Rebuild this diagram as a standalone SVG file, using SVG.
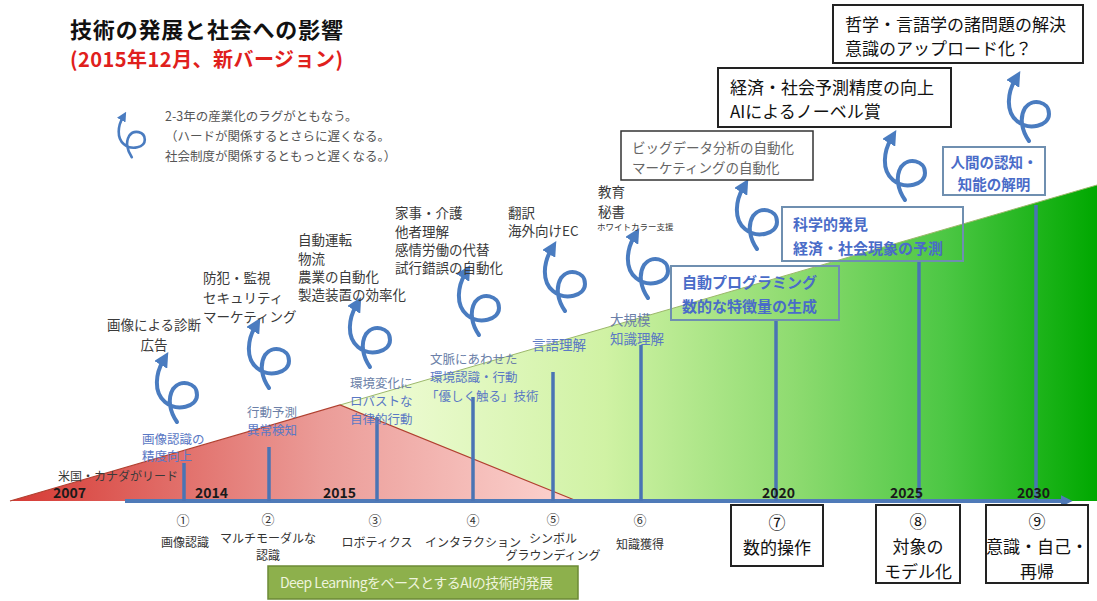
<svg xmlns="http://www.w3.org/2000/svg" xmlns:xlink="http://www.w3.org/1999/xlink" width="1097" height="601" viewBox="0 0 1097 601">
<style>
text{font-family:"Noto Sans CJK JP","Noto Sans",sans-serif;}
.title{font-size:22px;font-weight:bold;fill:#111;}
.sub{font-size:20px;font-weight:bold;fill:#e0201c;}
.note{font-size:12.5px;fill:#555;}
.lab{font-size:13.5px;fill:#3a3a3a;}
.blue{font-size:12.5px;fill:#5a78c4;}
.bbox{font-size:15px;font-weight:bold;fill:#4a6cc8;}
.year{font-size:14px;font-weight:bold;fill:#1a1a1a;}
.num{font-size:13px;fill:#333;}
.cap{font-size:12px;fill:#333;}
.big{font-size:17px;fill:#111;}
.box{fill:#fff;stroke:#222;stroke-width:2;}
.tbox{fill:none;stroke:#6f8fb0;stroke-width:2;}
.tick{stroke:#4a74b4;stroke-width:3.5;}
.curl{fill:none;stroke:#4a7cc0;stroke-width:4;stroke-linecap:round;}
</style>
<defs>
<linearGradient id="gGreen" gradientUnits="userSpaceOnUse" x1="340" y1="0" x2="1097" y2="0">
<stop offset="0" stop-color="#f3fddc"/>
<stop offset="0.35" stop-color="#d0f2a4"/>
<stop offset="0.6" stop-color="#8edb70"/>
<stop offset="0.8" stop-color="#4cc744"/>
<stop offset="1" stop-color="#00a800"/>
</linearGradient>
<linearGradient id="gRed" gradientUnits="userSpaceOnUse" x1="10" y1="0" x2="577" y2="0">
<stop offset="0" stop-color="#d63a34"/>
<stop offset="0.55" stop-color="#eb9c98"/>
<stop offset="1" stop-color="#fcd4d0"/>
</linearGradient>
<marker id="ah" markerUnits="userSpaceOnUse" viewBox="0 0 10 10" markerWidth="15" markerHeight="15" refX="3" refY="5" orient="auto">
<path d="M0,0 L10,5 L0,10 z" fill="#4a7cc0"/>
</marker>
<marker id="axh" markerUnits="userSpaceOnUse" viewBox="0 0 10 10" markerWidth="12" markerHeight="12" refX="2" refY="5" orient="auto">
<path d="M0,0 L10,5 L0,10 z" fill="#4f7ab8"/>
</marker>
<path id="curl" class="curl" marker-end="url(#ah)" d="M12,65 C5,55 2,42 8,32 C15,22 32,25 32,38 C32,50 12,55 0,45 C-12,35 -9,16 -2,4"/>
</defs>

<g id="background">
<polygon points="10,501 1097,185 1097,501" fill="url(#gGreen)"/>
<line x1="340" y1="405" x2="1097" y2="185" stroke="#9cb86a" stroke-width="1"/>
<polygon points="10,501 340,405 577,501" fill="url(#gRed)"/>
<polyline points="10,501 340,405 577,501" fill="none" stroke="#b04030" stroke-width="1.2"/>
</g>

<g id="title">
<text class="title" x="70" y="38" textLength="273">技術の発展と社会への影響</text>
<text class="sub" x="70" y="67" textLength="273">(2015年12月、新バージョン)</text>
</g>

<g id="legend">
<use href="#curl" xlink:href="#curl" transform="translate(124,115) scale(0.65)"/>
<text class="note" x="165" y="121">2-3年の産業化のラグがともなう。</text>
<text class="note" x="165" y="141">（ハードが関係するとさらに遅くなる。</text>
<text class="note" x="165" y="161">社会制度が関係するともっと遅くなる。）</text>
</g>

<g id="connectors">
<line x1="125" y1="501" x2="1063" y2="501" stroke="#4f7ab8" stroke-width="4" marker-end="url(#axh)"/>
<line class="tick" x1="184" y1="463" x2="184" y2="501"/>
<line class="tick" x1="269" y1="447" x2="269" y2="501"/>
<line class="tick" x1="377" y1="417" x2="377" y2="501"/>
<line class="tick" x1="473" y1="397" x2="473" y2="501"/>
<line class="tick" x1="553" y1="372" x2="553" y2="501"/>
<line class="tick" x1="641" y1="345" x2="641" y2="501"/>
<line class="tick" x1="776" y1="321" x2="776" y2="501"/>
<line class="tick" x1="919" y1="262" x2="919" y2="501"/>
<line class="tick" x1="1036" y1="205" x2="1036" y2="501"/>
<use href="#curl" xlink:href="#curl" transform="translate(165,357)"/>
<use href="#curl" xlink:href="#curl" transform="translate(257,323)"/>
<use href="#curl" xlink:href="#curl" transform="translate(358,302)"/>
<use href="#curl" xlink:href="#curl" transform="translate(467,270)"/>
<use href="#curl" xlink:href="#curl" transform="translate(553,246)"/>
<use href="#curl" xlink:href="#curl" transform="translate(636,233)"/>
<use href="#curl" xlink:href="#curl" transform="translate(745,184)"/>
<use href="#curl" xlink:href="#curl" transform="translate(893,135)"/>
<use href="#curl" xlink:href="#curl" transform="translate(1017,76)"/>
</g>

<g id="years">
<text class="year" x="53" y="498">2007</text>
<text class="year" x="195" y="498">2014</text>
<text class="year" x="323" y="498">2015</text>
<text class="year" x="762" y="498">2020</text>
<text class="year" x="890" y="498">2025</text>
<text class="year" x="1017" y="498">2030</text>
<text class="lab" x="58" y="481" style="font-size:12px">米国・カナダがリード</text>
</g>

<g id="app-1">
<text class="lab" x="107" y="330">画像による診断</text>
<text class="lab" x="154" y="350" text-anchor="middle">広告</text>
</g>
<g id="app-2">
<text class="lab" x="203" y="283">防犯・監視</text>
<text class="lab" x="203" y="303">セキュリティ</text>
<text class="lab" x="203" y="322">マーケティング</text>
</g>
<g id="app-3">
<text class="lab" x="298" y="245">自動運転</text>
<text class="lab" x="298" y="264">物流</text>
<text class="lab" x="298" y="282">農業の自動化</text>
<text class="lab" x="298" y="300">製造装置の効率化</text>
</g>
<g id="app-4">
<text class="lab" x="395" y="218">家事・介護</text>
<text class="lab" x="395" y="237">他者理解</text>
<text class="lab" x="395" y="255">感情労働の代替</text>
<text class="lab" x="395" y="273">試行錯誤の自動化</text>
</g>
<g id="app-5">
<text class="lab" x="508" y="218">翻訳</text>
<text class="lab" x="508" y="236">海外向けEC</text>
</g>
<g id="app-6">
<text class="lab" x="598" y="197">教育</text>
<text class="lab" x="598" y="217">秘書</text>
<text class="lab" x="597" y="230" style="font-size:8.5px">ホワイトカラー支援</text>
</g>
<g id="app-7">
<rect class="box" x="621" y="131" width="192" height="49" style="stroke:#333;stroke-width:1.5"/>
<text class="lab" x="632" y="153" style="fill:#666">ビッグデータ分析の自動化</text>
<text class="lab" x="632" y="173" style="fill:#666">マーケティングの自動化</text>
</g>
<g id="app-8">
<rect class="box" x="718" y="68" width="233" height="59"/>
<text class="big" x="730" y="94">経済・社会予測精度の向上</text>
<text class="big" x="730" y="118">AIによるノーベル賞</text>
</g>
<g id="app-9">
<rect class="box" x="833" y="5" width="250" height="58"/>
<text class="big" x="845" y="31">哲学・言語学の諸問題の解決</text>
<text class="big" x="845" y="55">意識のアップロード化？</text>
</g>

<g id="tech-1">
<text class="blue" x="142" y="444">画像認識の</text>
<text class="blue" x="142" y="461">精度向上</text>
</g>
<g id="tech-2">
<text class="blue" x="247" y="417" style="fill:#6b7fa8">行動予測</text>
<text class="blue" x="247" y="435">異常検知</text>
</g>
<g id="tech-3">
<text class="blue" x="350" y="388" style="fill:#6b7fa8">環境変化に</text>
<text class="blue" x="350" y="406">ロバストな</text>
<text class="blue" x="350" y="424">自律的行動</text>
</g>
<g id="tech-4">
<text class="blue" x="430" y="364" style="fill:#6b7fa8">文脈にあわせた</text>
<text class="blue" x="430" y="382">環境認識・行動</text>
<text class="blue" x="426" y="401">「優しく触る」技術</text>
</g>
<g id="tech-5">
<text class="blue" x="532" y="350" style="font-size:13.5px">言語理解</text>
</g>
<g id="tech-6">
<text class="blue" x="610" y="325" style="font-size:13.5px;fill:#6b7fa8">大規模</text>
<text class="blue" x="610" y="344" style="font-size:13.5px">知識理解</text>
</g>
<g id="tech-7">
<rect class="tbox" x="671" y="266" width="168" height="54"/>
<text class="bbox" x="682" y="288">自動プログラミング</text>
<text class="bbox" x="682" y="312">数的な特徴量の生成</text>
</g>
<g id="tech-8">
<rect class="tbox" x="782" y="207" width="181" height="54"/>
<text class="bbox" x="793" y="230">科学的発見</text>
<text class="bbox" x="793" y="254">経済・社会現象の予測</text>
</g>
<g id="tech-9">
<rect class="tbox" x="943" y="147" width="102" height="48"/>
<text class="bbox" x="994" y="168" text-anchor="middle" style="font-size:14.5px">人間の認知・</text>
<text class="bbox" x="994" y="190" text-anchor="middle" style="font-size:14.5px">知能の解明</text>
</g>

<g id="stage-1">
<text class="num" x="183" y="525" text-anchor="middle">①</text>
<text class="cap" x="185" y="547" text-anchor="middle">画像認識</text>
</g>
<g id="stage-2">
<text class="num" x="268" y="524" text-anchor="middle">②</text>
<text class="cap" x="268" y="543" text-anchor="middle">マルチモーダルな</text>
<text class="cap" x="268" y="560" text-anchor="middle">認識</text>
</g>
<g id="stage-3">
<text class="num" x="375" y="525" text-anchor="middle">③</text>
<text class="cap" x="377" y="547" text-anchor="middle">ロボティクス</text>
</g>
<g id="stage-4">
<text class="num" x="473" y="525" text-anchor="middle">④</text>
<text class="cap" x="473" y="547" text-anchor="middle">インタラクション</text>
</g>
<g id="stage-5">
<text class="num" x="553" y="524" text-anchor="middle">⑤</text>
<text class="cap" x="553" y="543" text-anchor="middle">シンボル</text>
<text class="cap" x="553" y="560" text-anchor="middle">グラウンディング</text>
</g>
<g id="stage-6">
<text class="num" x="640" y="525" text-anchor="middle">⑥</text>
<text class="cap" x="640" y="549" text-anchor="middle">知識獲得</text>
</g>
<g id="stage-7">
<rect class="box" x="731" y="505" width="92" height="61"/>
<text class="big" x="777" y="529" text-anchor="middle">⑦</text>
<text class="big" x="777" y="554" text-anchor="middle">数的操作</text>
</g>
<g id="stage-8">
<rect class="box" x="876" y="505" width="84" height="78"/>
<text class="big" x="918" y="528" text-anchor="middle">⑧</text>
<text class="big" x="918" y="553" text-anchor="middle">対象の</text>
<text class="big" x="918" y="578" text-anchor="middle">モデル化</text>
</g>
<g id="stage-9">
<rect class="box" x="986" y="505" width="102" height="78"/>
<text class="big" x="1037" y="528" text-anchor="middle">⑨</text>
<text class="big" x="1037" y="553" text-anchor="middle">意識・自己・</text>
<text class="big" x="1037" y="578" text-anchor="middle">再帰</text>
</g>

<g id="banner">
<rect x="268" y="566" width="310" height="33" fill="#8db04c" stroke="#6c8a36" stroke-width="1.5"/>
<text x="280" y="588" style="font-size:14px;fill:#eef4dc" textLength="273">Deep LearningをベースとするAIの技術的発展</text>
</g>
</svg>
